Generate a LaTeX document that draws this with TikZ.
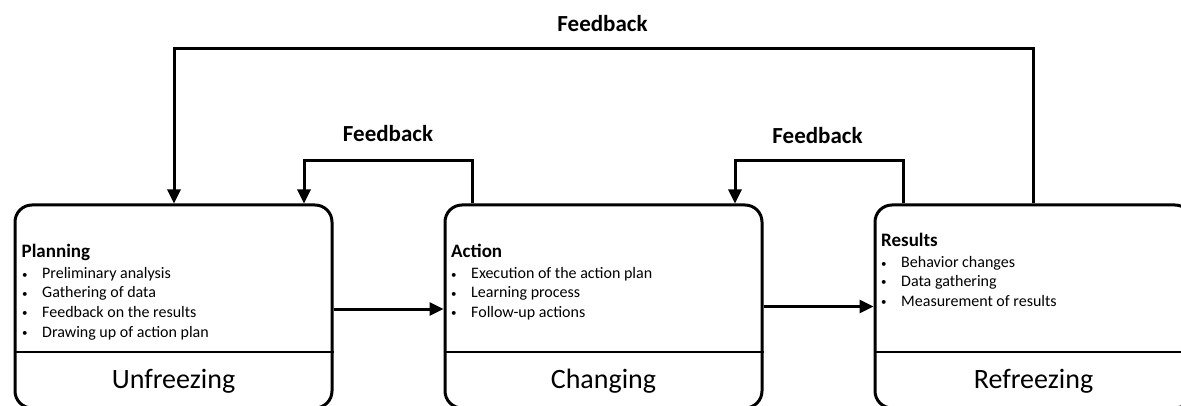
\documentclass[tikz,border=0pt]{standalone}
\usepackage{fontspec}
\setmainfont{Carlito}
\usetikzlibrary{arrows.meta}
\begin{document}
\begin{tikzpicture}[x=1pt,y=-1pt,
  stage/.style={draw, line width=3pt, rounded corners=17pt,
    minimum width=317pt, minimum height=203pt, inner sep=0pt},
  head/.style={anchor=base west, inner sep=0pt, font=\fontsize{19}{22}\selectfont\bfseries},
  item/.style={anchor=base west, inner sep=0pt, font=\fontsize{16}{19}\selectfont},
  phase/.style={anchor=base, inner sep=0pt, font=\fontsize{28}{32}\selectfont},
  fblabel/.style={anchor=base, inner sep=0pt, font=\fontsize{23}{26}\selectfont\bfseries},
  link/.style={line width=3pt, -{Triangle[length=14pt,width=13pt]}},
  divider/.style={line width=1.2pt}
]
\useasboundingbox (0,0) rectangle (1181,406);
\newcommand{\bulletitem}[1]{\makebox[21pt][l]{\hspace{1pt}\raisebox{1pt}{\fontsize{11}{11}\selectfont\textbullet}}#1}
\begin{scope}
\clip (0,0) rectangle (1181,406);

% the three stages
\node[stage] (unf) at (173.5,306.5) {};
\node[stage] (chg) at (603.5,306.5) {};
\node[stage] (ref) at (1033.5,306.5) {};

% lower compartments
\coordinate (divY) at (0,352);
\draw[divider] (unf.west |- divY) -- (unf.east |- divY);
\draw[divider] (chg.west |- divY) -- (chg.east |- divY);
\draw[divider] (ref.west |- divY) -- (ref.east |- divY);

\node[phase] (unfL) at (173.5,388) {Unfreezing};
\node[phase] (chgL) at (603.5,388) {Changing};
\node[phase] (refL) at (1033.5,388) {Refreezing};

% stage contents
\node[head] (planH) at (21.5,258) {Planning};
\node[item] (plan1) at (21,279) {\bulletitem{Preliminary analysis}};
\node[item] (plan2) at (21,298) {\bulletitem{Gathering of data}};
\node[item] (plan3) at (21,317.5) {\bulletitem{Feedback on the results}};
\node[item] (plan4) at (21,337) {\bulletitem{Drawing up of action plan}};

\node[head] (actH) at (451,258) {Action};
\node[item] (act1) at (450,279) {\bulletitem{Execution of the action plan}};
\node[item] (act2) at (450,298) {\bulletitem{Learning process}};
\node[item] (act3) at (450,317.5) {\bulletitem{Follow-up actions}};

\node[head] (resH) at (881,247) {Results};
\node[item] (res1) at (880,268) {\bulletitem{Behavior changes}};
\node[item] (res2) at (880,287) {\bulletitem{Data gathering}};
\node[item] (res3) at (880,306) {\bulletitem{Measurement of results}};

% forward flow
\draw[link] ([yshift=-2.5pt]unf.east) -- ([yshift=-2.5pt]chg.west);
\draw[link] (chg.east) -- (ref.west);

% feedback loops
\coordinate (bigL) at (174,49);
\coordinate (fbAl) at (304,161);
\coordinate (fbAr) at (472,161);
\coordinate (fbBl) at (735,161);
\coordinate (fbBr) at (903,161);

\draw[link] (ref.north) |- (bigL) -- (unf.north -| bigL);
\draw[link] (chg.north -| fbAr) -- (fbAr) -- (fbAl) -- (unf.north -| fbAl);
\draw[link] (ref.north -| fbBr) -- (fbBr) -- (fbBl) -- (chg.north -| fbBl);

\node[fblabel] (fbTop) at (602.5,32) {Feedback};
\node[fblabel] (fbLeft) at (388,142) {Feedback};
\node[fblabel] (fbRight) at (817.5,144) {Feedback};
\end{scope}
\end{tikzpicture}
\end{document}
